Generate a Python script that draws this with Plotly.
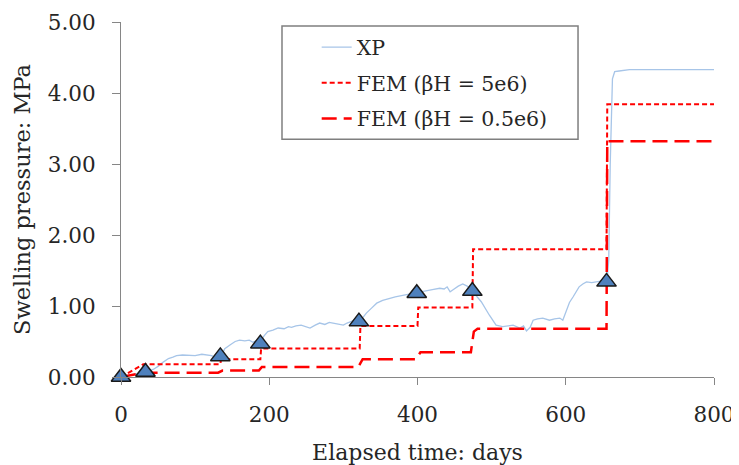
import plotly.graph_objects as go

# ---- data ----
xp_t = [0, 10, 20, 33, 37, 44, 50, 57, 64, 70, 75, 83, 91, 100, 109, 116, 122, 127, 131, 135,
        140, 147, 154, 160, 167, 173, 178, 183, 188, 193, 198, 205, 212, 220, 226, 230, 236, 243,
        249, 255, 262, 268, 275, 281, 286, 293, 300, 305, 309, 315, 322, 331, 338, 345, 353, 362,
        370, 380, 389, 398, 405, 412, 420, 430, 436, 440, 444, 448, 455, 461, 467, 474, 480, 486,
        497, 506, 515, 522, 529, 538, 543, 547, 552, 556, 562, 569, 574, 578, 585, 592, 596, 600,
        605, 610, 618, 623, 628, 635, 641, 647, 652, 656, 658, 660, 663, 666, 672, 686, 700, 750, 800]
xp_p = [0.00, 0.02, 0.04, 0.07, 0.08, 0.11, 0.15, 0.21, 0.26, 0.28, 0.30, 0.31, 0.31, 0.30, 0.32,
        0.31, 0.30, 0.28, 0.26, 0.29, 0.40, 0.45, 0.50, 0.52, 0.51, 0.52, 0.49, 0.51, 0.50, 0.58,
        0.64, 0.66, 0.69, 0.68, 0.71, 0.70, 0.72, 0.73, 0.71, 0.69, 0.73, 0.76, 0.74, 0.77, 0.76,
        0.74, 0.73, 0.76, 0.78, 0.80, 0.78, 0.90, 0.97, 1.04, 1.08, 1.11, 1.13, 1.15, 1.17, 1.18,
        1.20, 1.22, 1.23, 1.25, 1.24, 1.27, 1.20, 1.23, 1.28, 1.31, 1.28, 1.21, 1.14, 1.06, 0.87,
        0.73, 0.71, 0.72, 0.73, 0.69, 0.72, 0.65, 0.70, 0.80, 0.82, 0.83, 0.81, 0.80, 0.82, 0.83,
        0.80, 0.90, 1.05, 1.13, 1.27, 1.31, 1.34, 1.33, 1.34, 1.35, 1.32, 1.40, 1.65, 3.00, 4.20,
        4.30, 4.31, 4.33, 4.33, 4.33, 4.33]

tri_t = [0, 33, 134, 188, 321, 399, 474, 655]
tri_p = [0.00, 0.07, 0.29, 0.47, 0.78, 1.18, 1.21, 1.34]

fem5_t = [0, 30, 134, 135, 188, 189, 322, 323, 400, 401, 474, 475, 655, 656, 800]
fem5_p = [0.00, 0.18, 0.18, 0.25, 0.25, 0.40, 0.40, 0.72, 0.72, 0.98, 0.98, 1.80, 1.80, 3.84, 3.84]

fem05_t = [0, 30, 131, 137, 186, 190, 320, 326, 398, 404, 472, 476, 481, 655, 656, 800]
fem05_p = [0.00, 0.06, 0.06, 0.09, 0.09, 0.14, 0.14, 0.25, 0.25, 0.35, 0.35, 0.64, 0.68, 0.68, 3.32, 3.32]

x_ticks = [0, 200, 400, 600, 800]
y_ticks = [0, 1, 2, 3, 4, 5]

FONT = "DejaVu Serif"
fig = go.Figure()

fig.add_trace(go.Scatter(x=xp_t, y=xp_p, mode="lines", name="XP",
                         line=dict(color="#a7c5e8", width=1.3), legendgroup="a"))
fig.add_trace(go.Scatter(x=fem5_t, y=fem5_p, mode="lines", name="FEM (βH = 5e6)",
                         line=dict(color="#ff0000", width=2, dash="5px,3px"), legendgroup="b"))
fig.add_trace(go.Scatter(x=fem05_t, y=fem05_p, mode="lines", name="FEM (βH = 0.5e6)",
                         line=dict(color="#ff0000", width=2.5, dash="15px,7px"), legendgroup="c"))
fig.add_trace(go.Scatter(x=tri_t, y=tri_p, mode="markers", showlegend=False, cliponaxis=False,
                         marker=dict(symbol="triangle-up", size=17, color="#4f81bd",
                                     line=dict(color="#1a1a1a", width=1.5))))

fig.add_shape(type="rect", xref="paper", yref="paper", x0=0.2715, x1=0.7707, y0=0.670, y1=0.989,
              line=dict(color="#7f7f7f", width=1.5), fillcolor="white", layer="below")

# page body adds an 8px offset, so the figure is sized 8px smaller than the window
fig.update_layout(
    width=731, height=457,
    margin=dict(l=113, r=25, t=14, b=88, autoexpand=False),
    paper_bgcolor="white", plot_bgcolor="white",
    font=dict(family=FONT, size=21, color="#262626"),
    showlegend=True,
    legend=dict(x=0.33, y=0.985, xanchor="left", yanchor="top", bgcolor="rgba(0,0,0,0)",
                borderwidth=0, font=dict(family=FONT, size=20.5, color="#262626"),
                traceorder="grouped", tracegroupgap=6),
    xaxis=dict(range=[0, 800], tickvals=x_ticks, ticks="outside", ticklen=7, tickcolor="#868686",
               showline=True, linecolor="#868686", linewidth=1, showgrid=False, zeroline=False,
               automargin=False, tickfont=dict(size=21.5),
               title=dict(text="Elapsed time: days", standoff=18,
                          font=dict(family=FONT, size=22, color="#262626")),
               ticklabelstandoff=11),
    yaxis=dict(range=[0, 5], tickvals=y_ticks, tickformat=".2f", ticks="outside", ticklen=8,
               tickcolor="#868686", showline=True, linecolor="#868686", linewidth=1,
               showgrid=False, zeroline=False, ticklabelstandoff=12, automargin=False,
               tickfont=dict(size=21.5),
               title=dict(text="Swelling pressure: MPa", standoff=10,
                          font=dict(family=FONT, size=22.5, color="#262626"))),
)

fig.write_html("out.html")
